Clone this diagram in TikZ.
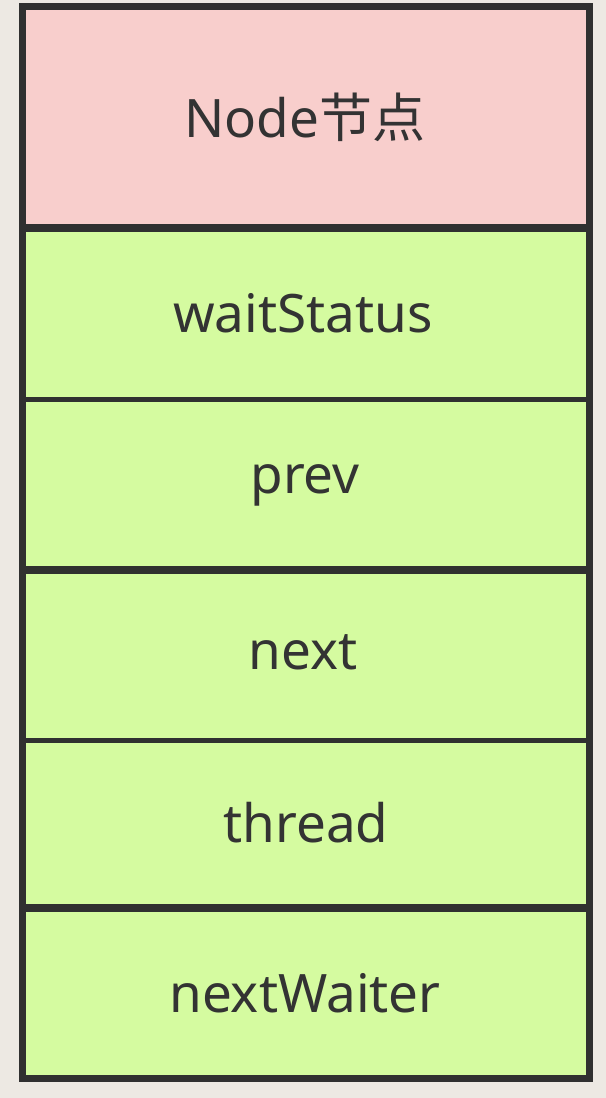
\documentclass[tikz,border=0pt]{standalone}
\usepackage{fontspec}
\setmainfont{Noto Sans}
\newfontfamily\cjk{Noto Sans CJK SC}
\definecolor{bgc}{HTML}{EDE9E3}
\definecolor{pinkc}{HTML}{F8CECC}
\definecolor{greenc}{HTML}{D5FBA0}
\definecolor{linec}{HTML}{303030}
\definecolor{txtc}{HTML}{333333}
\tikzset{
  cell/.style={draw=none, minimum width=567bp, inner sep=0pt, text=txtc, font=\fontsize{53bp}{60bp}\selectfont},
  divthin/.style={draw=linec, line width=5bp},
  divthick/.style={draw=linec, line width=8bp},
}
\begin{document}
\begin{tikzpicture}[x=1bp,y=-1bp]
\fill[bgc] (0,0) rectangle (606,1098);
\useasboundingbox (0,0) rectangle (606,1098);
\fill[pinkc] (22,6.5) rectangle (589,228);
\fill[greenc] (22,228) rectangle (589,1078);
\node[cell] (hdr) at (305,117) {Node{\cjk 节点}};
\node[cell] (ws) at (303,313) {waitStatus};
\node[cell] (pv) at (305,485) {prev};
\node[cell] (nx) at (303,652) {next};
\node[cell] (th) at (306,823) {thread};
\node[cell] (nw) at (305,993) {nextWaiter};
\coordinate (l1) at (22,228); \coordinate (r1) at (589,228);
\coordinate (l2) at (22,399); \coordinate (r2) at (589,399);
\coordinate (l3) at (22,570); \coordinate (r3) at (589,570);
\coordinate (l4) at (22,740); \coordinate (r4) at (589,740);
\coordinate (l5) at (22,908); \coordinate (r5) at (589,908);
\draw[divthick] (l1) -- (r1);
\draw[divthin] (l2) -- (r2);
\draw[divthick] (l3) -- (r3);
\draw[divthin] (l4) -- (r4);
\draw[divthick] (l5) -- (r5);
\draw[draw=linec, line width=7bp] (22,6.5) rectangle (589,1078);
\end{tikzpicture}
\end{document}
